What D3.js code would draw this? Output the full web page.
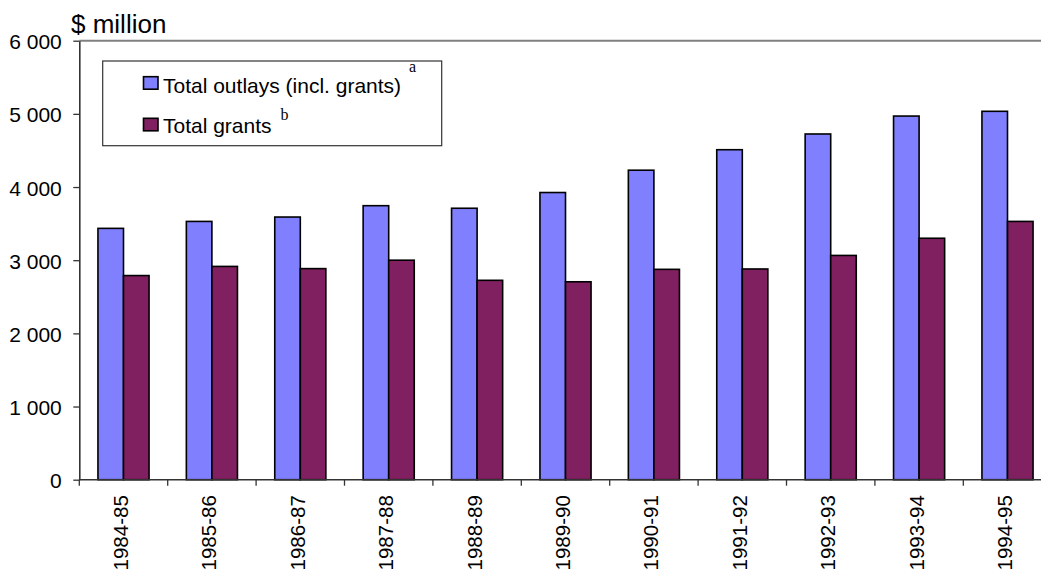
<!DOCTYPE html>
<html>
<head>
<meta charset="utf-8">
<script src="https://cdn.jsdelivr.net/npm/d3@7"></script>
<style>
  html, body { margin: 0; padding: 0; background: #fff; }
  svg { display: block; font-family: "Liberation Sans", Arial, sans-serif; }
</style>
</head>
<body>
<svg id="chart" width="1041" height="570"></svg>
<script>
// Financial years shown on the category axis
const years = ["1984-85", "1985-86", "1986-87", "1987-88", "1988-89", "1989-90",
               "1990-91", "1991-92", "1992-93", "1993-94", "1994-95"];
// Total outlays including grants ($ million)
const outlays = [3435, 3530, 3590, 3745, 3710, 3925, 4230, 4510, 4725, 4970, 5035];
// Total grants ($ million)
const grants = [2790, 2915, 2885, 3000, 2725, 2705, 2875, 2880, 3065, 3300, 3530];
// Value axis ticks
const yTicks = [0, 1000, 2000, 3000, 4000, 5000, 6000];

const seriesNames = ["Total outlays (incl. grants)", "Total grants"];
const seriesColors = ["#8080FF", "#802060"];
const seriesNotes = ["a", "b"];

const svg = d3.select("#chart");
const margin = { left: 79.3, top: 40.7, bottom: 479.7, right: 1051.7 };

const x = d3.scaleBand().domain(years).range([margin.left, margin.right])
  .paddingInner(0).paddingOuter(0);
const xInner = d3.scaleBand().domain([0, 1])
  .range([0, x.bandwidth()]).paddingOuter(0.73).paddingInner(0);
const y = d3.scaleLinear().domain([0, 6000]).range([margin.bottom, margin.top]);

const fmt = v => d3.format(",")(v).replace(/,/g, " ");

// Top border of the plot area
svg.append("line")
  .attr("x1", margin.left).attr("x2", 1041)
  .attr("y1", y(6000)).attr("y2", y(6000))
  .attr("stroke", "#808080").attr("stroke-width", 2);

// Bars
const rows = years.map((yr, i) => ({ yr, vals: [outlays[i], grants[i]] }));
const groups = svg.append("g").selectAll("g").data(rows).join("g")
  .attr("transform", d => `translate(${x(d.yr)},0)`);
groups.selectAll("rect").data(d => d.vals.map((v, k) => ({ v, k }))).join("rect")
  .attr("x", d => xInner(d.k))
  .attr("width", xInner.bandwidth())
  .attr("y", d => y(d.v))
  .attr("height", d => y(0) - y(d.v))
  .attr("fill", d => seriesColors[d.k])
  .attr("stroke", "#000").attr("stroke-width", 1.6);

// Value axis
const yAxis = d3.axisLeft(y).tickValues(yTicks).tickSize(6).tickSizeOuter(0).tickFormat(fmt);
const gy = svg.append("g").attr("transform", `translate(${margin.left},0)`).call(yAxis);
gy.attr("font-size", null).attr("font-family", null);
gy.select(".domain").attr("stroke", "#333").attr("stroke-width", 1.6);
gy.selectAll(".tick line").attr("stroke", "#333").attr("stroke-width", 1.3);
gy.selectAll(".tick text")
  .style("font-size", "21px").style("fill", "#000")
  .attr("x", -17.5).attr("dy", "0.38em");

// Category axis with ticks on the boundaries between years
const gx = svg.append("g").attr("transform", `translate(0,${margin.bottom})`);
gx.append("line").attr("x1", margin.left).attr("x2", 1041)
  .attr("stroke", "#333").attr("stroke-width", 1.6);
const bounds = d3.range(years.length + 1).map(i => margin.left + i * x.step());
gx.selectAll("line.tk").data(bounds).join("line").attr("class", "tk")
  .attr("x1", d => d).attr("x2", d => d).attr("y1", 0).attr("y2", 6)
  .attr("stroke", "#333").attr("stroke-width", 1.3);
gx.selectAll("text").data(years).join("text")
  .attr("transform", d => `translate(${x(d) + x.bandwidth() / 2 + 4.5},${15.5}) rotate(-90)`)
  .attr("text-anchor", "end")
  .style("font-size", "20.5px")
  .text(d => d);

// Unit label
svg.append("text").attr("x", 71).attr("y", 33).style("font-size", "26px").text("$ million");

// Legend
const lg = svg.append("g");
lg.append("rect").attr("x", 102.7).attr("y", 61).attr("width", 339).attr("height", 84.7)
  .attr("fill", "#fff").attr("stroke", "#333").attr("stroke-width", 1.2);
const swatchY = [76.7, 118.3];
const textY = [92.5, 133];
const noteY = [72, 120];
seriesNames.forEach((name, k) => {
  lg.append("rect").attr("x", 143.5).attr("y", swatchY[k]).attr("width", 14.5).attr("height", 12.5)
    .attr("fill", seriesColors[k]).attr("stroke", "#000").attr("stroke-width", 1.6);
  const t = lg.append("text").attr("x", 163).attr("y", textY[k])
    .style("font-size", "21px").text(name);
  const w = t.node().getComputedTextLength();
  lg.append("text")
    .attr("x", 163 + w + (k === 0 ? 8 : 9))
    .attr("y", noteY[k])
    .style("font-size", "16px")
    .style("font-family", "'Liberation Serif', 'Times New Roman', serif")
    .text(seriesNotes[k]);
});
</script>
</body>
</html>
